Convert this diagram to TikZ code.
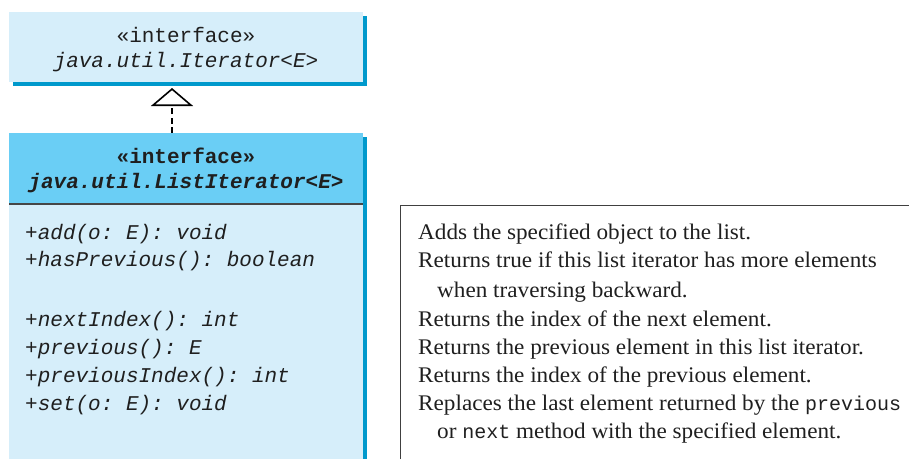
\documentclass[tikz,border=0pt]{standalone}
\usepackage{fontspec}
\setmainfont{Liberation Serif}
\setmonofont{Liberation Mono}
\newfontfamily\descfont[FakeStretch=1.04]{Liberation Serif}
\usetikzlibrary{arrows.meta}
\definecolor{boxlight}{RGB}{214,238,250}
\definecolor{boxhead}{RGB}{106,206,245}
\definecolor{shadowblue}{RGB}{0,153,204}
\definecolor{sepgray}{RGB}{70,70,70}
\tikzset{
  mono/.style={font=\fontsize{21}{25}\selectfont\ttfamily, inner sep=0pt, text=black!88},
  monoit/.style={mono, font=\fontsize{21}{25}\selectfont\ttfamily\itshape},
  desc/.style={font=\fontsize{22.3}{26}\selectfont\descfont, inner sep=0pt, anchor=base west, text=black!88},
  meth/.style={monoit, anchor=base west},
  boxfill/.style={inner sep=0pt, anchor=north west, outer sep=0pt}
}
\begin{document}
\begin{tikzpicture}[x=1pt,y=-1pt]
\useasboundingbox (0,0) rectangle (909,459);
% top box
\fill[shadowblue] (13,16) rectangle (367,86);
\node[boxfill, fill=boxlight, minimum width=354pt, minimum height=70pt] (iter) at (9,12) {};
\node[mono, anchor=base] (iterst) at (186,42) {«interface»};
\node[monoit, anchor=base] (itername) at (186,67) {java.util.Iterator<E>};
% bottom box
\fill[shadowblue] (13,137) rectangle (367,459);
\node[boxfill, fill=boxhead, minimum width=354pt, minimum height=71pt] (hdr) at (9,133) {};
\node[boxfill, fill=boxlight, minimum width=354pt, minimum height=255pt] (body) at (9,204) {};
\draw[sepgray, line width=1.4pt] (hdr.south west) -- (hdr.south east);
\node[mono, font=\fontsize{21}{25}\selectfont\ttfamily\bfseries, anchor=base] (lst) at (186,163) {«interface»};
\node[monoit, font=\fontsize{21}{25}\selectfont\ttfamily\bfseries\itshape, anchor=base] (lstname) at (186,188) {java.util.ListIterator<E>};
% connector
\coordinate (tip) at (172,88);
\coordinate (start) at (172,133);
\draw[line width=1.6pt, dash pattern=on 6pt off 3.5pt, -{Triangle[open, width=42pt, length=18pt, line width=1.6pt]}] (start) -- (tip);
% methods
\node[meth] (m1) at (25,239) {+add(o: E): void};
\node[meth] (m2) at (25,266) {+hasPrevious(): boolean};
\node[meth] (m3) at (25,326) {+nextIndex(): int};
\node[meth] (m4) at (25,354) {+previous(): E};
\node[meth] (m5) at (25,382) {+previousIndex(): int};
\node[meth] (m6) at (25,410) {+set(o: E): void};
% description box
\coordinate (dbl) at (400,459);
\coordinate (dtl) at (400,205);
\coordinate (dtr) at (909,205);
\draw[black!75, line width=1pt] (dbl) -- (dtl) -- (dtr);
\node[desc] (d1) at (418,239) {Adds the specified object to the list.};
\node[desc] (d2) at (418,267) {Returns true if this list iterator has more elements};
\node[desc] (d3) at (437,297) {when traversing backward.};
\node[desc] (d4) at (418,326) {Returns the index of the next element.};
\node[desc] (d5) at (418,354) {Returns the previous element in this list iterator.};
\node[desc] (d6) at (418,382) {Returns the index of the previous element.};
\node[desc] (d7) at (418,410) {Replaces the last element returned by the {\fontsize{20}{24}\selectfont\ttfamily previous}};
\node[desc] (d8) at (437,438) {or {\fontsize{20}{24}\selectfont\ttfamily next} method with the specified element.};
\end{tikzpicture}
\end{document}
